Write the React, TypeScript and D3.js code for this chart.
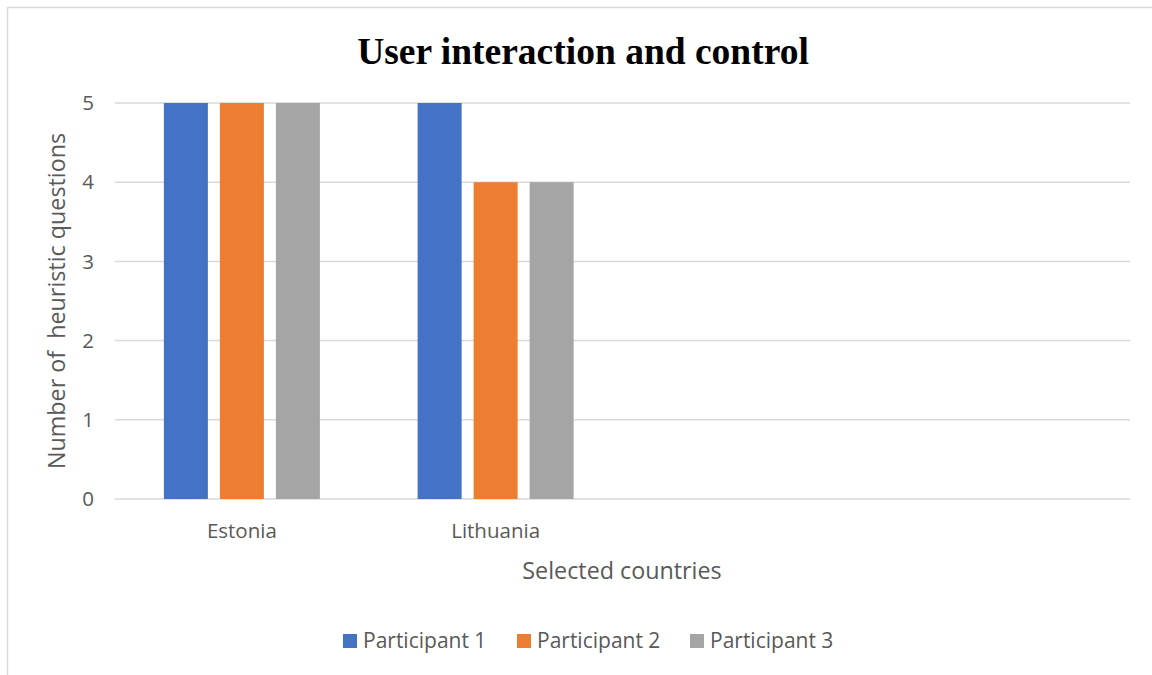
import React from "react";
import * as d3 from "d3";

const categories = ["Estonia", "Lithuania", "", ""];
const seriesNames = ["Participant 1", "Participant 2", "Participant 3"];
const participant1 = [5, 5];
const participant2 = [5, 4];
const participant3 = [5, 4];
const seriesValues = [participant1, participant2, participant3];
const colors = ["#4472C4", "#ED7D31", "#A5A5A5"];
const yTicks = [0, 1, 2, 3, 4, 5];

const W = 1152;
const H = 675;
const plot = { left: 115, right: 1130, top: 103, bottom: 499 };
const FONT = "'Open Sans', 'Noto Sans', sans-serif";
const TEXT = "#595959";
const GRID = "#d9d9d9";

export default function App() {
  const x0 = d3
    .scaleBand<number>()
    .domain(d3.range(categories.length))
    .range([plot.left, plot.right])
    .paddingInner(0.3852)
    .paddingOuter(0.1926);
  const x1 = d3
    .scaleBand<string>()
    .domain(seriesNames)
    .range([0, x0.bandwidth()])
    .paddingInner(12 / 56)
    .paddingOuter(0);
  const y = d3.scaleLinear().domain([0, 5]).range([plot.bottom, plot.top]);

  const legendItems = [
    { x: 343, name: seriesNames[0], color: colors[0] },
    { x: 517, name: seriesNames[1], color: colors[1] },
    { x: 690, name: seriesNames[2], color: colors[2] },
  ];

  return (
    <svg
      width={W}
      height={H}
      style={{ position: "absolute", left: 0, top: 0, background: "#fff" }}
    >
      <rect x={0} y={0} width={W} height={H} fill="#fff" />
      {/* chart frame */}
      <rect x={7.5} y={7.5} width={W + 20} height={H + 20} fill="none" stroke={GRID} strokeWidth={1.5} />

      <text
        x={583}
        y={64}
        textAnchor="middle"
        fontFamily="'Liberation Serif', 'Times New Roman', serif"
        fontWeight="bold"
        fontSize={37.5}
        fill="#000"
      >
        User interaction and control
      </text>

      {/* gridlines and y tick labels */}
      {yTicks.map((t) => (
        <g key={t}>
          <line x1={plot.left} x2={plot.right} y1={y(t)} y2={y(t)} stroke={GRID} strokeWidth={1.5} />
          <text
            x={94}
            y={y(t)}
            dy="0.35em"
            textAnchor="end"
            fontFamily={FONT}
            fontSize={20.5}
            fill={TEXT}
          >
            {t}
          </text>
        </g>
      ))}

      {/* bars */}
      {seriesValues.map((vals, si) =>
        vals.map((v, ci) => (
          <rect
            key={`${si}-${ci}`}
            x={(x0(ci) ?? 0) + (x1(seriesNames[si]) ?? 0)}
            y={y(v)}
            width={x1.bandwidth()}
            height={y(0) - y(v)}
            fill={colors[si]}
          />
        ))
      )}

      {/* category labels */}
      {categories.map((c, i) =>
        c ? (
          <text
            key={i}
            x={(x0(i) ?? 0) + x0.bandwidth() / 2}
            y={531}
            dy="0.35em"
            textAnchor="middle"
            fontFamily={FONT}
            fontSize={20.5}
            fill={TEXT}
          >
            {c}
          </text>
        ) : null
      )}

      {/* axis titles */}
      <text
        x={622}
        y={571}
        dy="0.35em"
        textAnchor="middle"
        fontFamily={FONT}
        fontSize={23.3}
        fill={TEXT}
      >
        Selected countries
      </text>
      <text
        transform={`translate(57, ${(plot.top + plot.bottom) / 2}) rotate(-90)`}
        textAnchor="middle"
        dy="0.35em"
        fontFamily={FONT}
        fontSize={23.3}
        fill={TEXT}
        style={{ whiteSpace: "pre" }}
      >
        {"Number of  heuristic questions"}
      </text>

      {/* legend */}
      {legendItems.map((d) => (
        <g key={d.name}>
          <rect x={d.x} y={634} width={14} height={14} fill={d.color} />
          <text
            x={d.x + 20}
            y={641}
            dy="0.35em"
            fontFamily={FONT}
            fontSize={21}
            fill={TEXT}
          >
            {d.name}
          </text>
        </g>
      ))}
    </svg>
  );
}
